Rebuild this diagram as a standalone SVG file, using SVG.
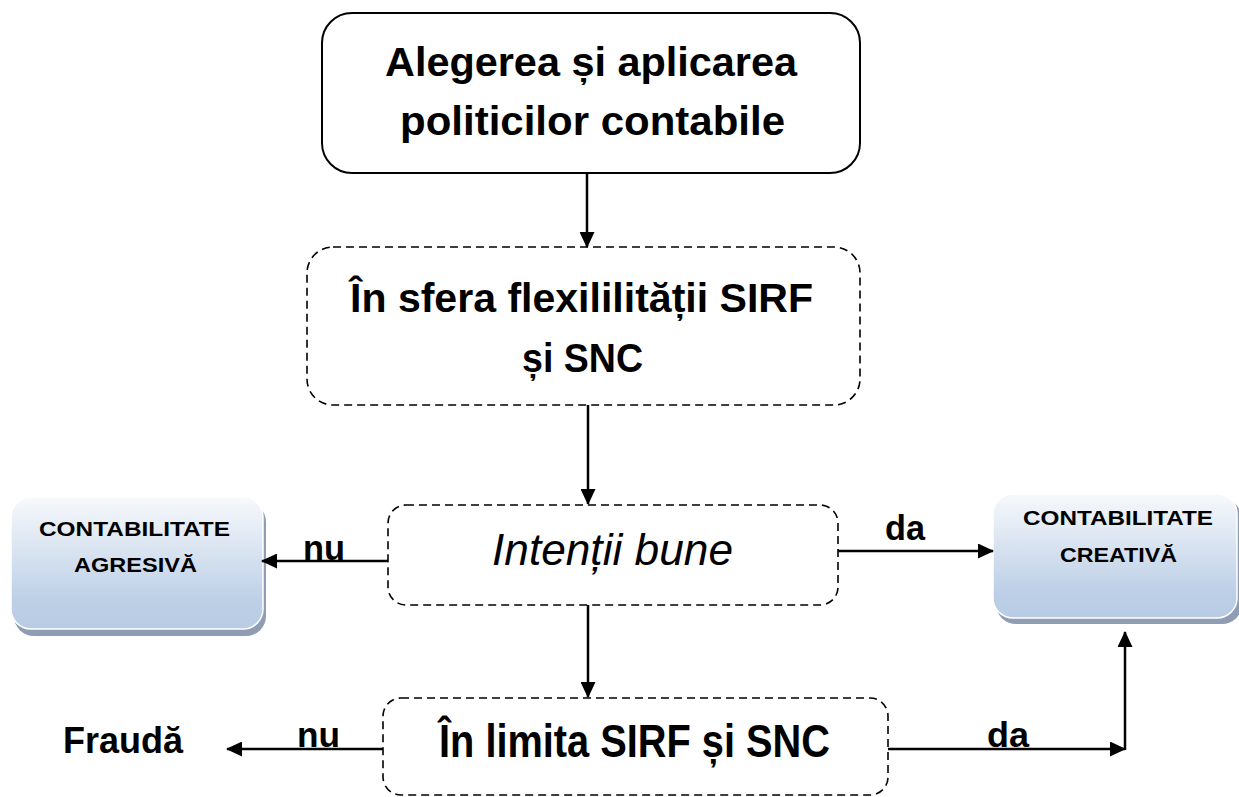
<svg xmlns="http://www.w3.org/2000/svg" width="1239" height="797" viewBox="0 0 1239 797">
<defs>
<linearGradient id="blueGrad" x1="0" y1="0" x2="0" y2="1">
<stop offset="0" stop-color="#f7f9fc"/>
<stop offset="0.8" stop-color="#bccfe6"/>
<stop offset="1" stop-color="#b8cce4"/>
</linearGradient>
<marker id="arr" markerUnits="userSpaceOnUse" markerWidth="16" markerHeight="15" refX="15" refY="7.5" orient="auto">
<path d="M0,0 L16,7.5 L0,15 Z" fill="#000"/>
</marker>
<style>
.solid{fill:#fff;stroke:#000;stroke-width:2}
.dash{fill:#fff;stroke:#000;stroke-width:1.6;stroke-dasharray:8 5}
.big{font-family:"Liberation Sans",Arial,sans-serif;font-weight:bold;fill:#000}
.ital{font-family:"Liberation Sans",Arial,sans-serif;font-style:italic;fill:#000}
.side{font-family:"Liberation Sans",Arial,sans-serif;font-weight:bold;font-size:21px;fill:#000}
.lbl{font-family:"Liberation Sans",Arial,sans-serif;font-weight:bold;font-size:35px;fill:#000}
.conn{fill:none;stroke:#000;stroke-width:2.5}
.shadow{fill:#8e9db3}
.grad{fill:url(#blueGrad);stroke:#fff;stroke-width:1.5}
</style>
</defs>

<g id="node-alegerea">
<rect class="solid" x="322" y="13" width="538" height="160" rx="30"/>
<text class="big" font-size="40" x="385" y="76" textLength="412" lengthAdjust="spacingAndGlyphs">Alegerea și aplicarea</text>
<text class="big" font-size="40" x="400" y="135" textLength="385" lengthAdjust="spacingAndGlyphs">politicilor contabile</text>
</g>

<g id="node-sfera">
<rect class="dash" x="307" y="247" width="553" height="158" rx="26"/>
<text class="big" font-size="40" x="350" y="312" textLength="463" lengthAdjust="spacingAndGlyphs">În sfera flexililității SIRF</text>
<text class="big" font-size="40" x="522" y="372" textLength="121" lengthAdjust="spacingAndGlyphs">și SNC</text>
</g>

<g id="node-intentii">
<rect class="dash" x="388" y="505" width="450" height="100" rx="18"/>
<text class="ital" font-size="44" x="492" y="565" textLength="241" lengthAdjust="spacingAndGlyphs">Intenții bune</text>
</g>

<g id="node-limita">
<rect class="dash" x="383" y="698" width="505" height="97" rx="18"/>
<text class="big" font-size="47" x="439" y="757" textLength="391" lengthAdjust="spacingAndGlyphs">În limita SIRF și SNC</text>
</g>

<g id="node-agresiva">
<rect class="shadow" x="14" y="502" width="252" height="134" rx="20"/>
<rect class="grad" x="11" y="497" width="252" height="132" rx="20"/>
<text class="side" x="39" y="536" textLength="191" lengthAdjust="spacingAndGlyphs">CONTABILITATE</text>
<text class="side" x="74" y="572" textLength="123" lengthAdjust="spacingAndGlyphs">AGRESIVĂ</text>
</g>

<g id="node-creativa">
<rect class="shadow" x="996" y="499" width="246" height="125" rx="20"/>
<rect class="grad" x="993" y="494" width="244" height="124" rx="20"/>
<text class="side" x="1023" y="525" textLength="190" lengthAdjust="spacingAndGlyphs">CONTABILITATE</text>
<text class="side" x="1060" y="562" textLength="117" lengthAdjust="spacingAndGlyphs">CREATIVĂ</text>
</g>

<g id="node-frauda">
<text class="big" font-size="36" x="63" y="753" textLength="120" lengthAdjust="spacingAndGlyphs">Fraudă</text>
</g>

<g id="connectors">
<line class="conn" x1="587" y1="173" x2="587" y2="247" marker-end="url(#arr)"/>
<line class="conn" x1="588" y1="405" x2="588" y2="504" marker-end="url(#arr)"/>
<line class="conn" x1="388" y1="561" x2="262" y2="561" marker-end="url(#arr)"/>
<line class="conn" x1="838" y1="551" x2="993" y2="551" marker-end="url(#arr)"/>
<line class="conn" x1="588" y1="605" x2="588" y2="697" marker-end="url(#arr)"/>
<line class="conn" x1="383" y1="749" x2="227" y2="749" marker-end="url(#arr)"/>
<line class="conn" x1="888" y1="749" x2="1125" y2="749" marker-end="url(#arr)"/>
<line class="conn" x1="1125" y1="750" x2="1125" y2="632" marker-end="url(#arr)"/>
<text class="lbl" x="303" y="560" textLength="42" lengthAdjust="spacingAndGlyphs">nu</text>
<text class="lbl" x="885" y="540" textLength="40" lengthAdjust="spacingAndGlyphs">da</text>
<text class="lbl" x="297" y="747" textLength="43" lengthAdjust="spacingAndGlyphs">nu</text>
<text class="lbl" x="987" y="747" textLength="42" lengthAdjust="spacingAndGlyphs">da</text>
</g>
</svg>
